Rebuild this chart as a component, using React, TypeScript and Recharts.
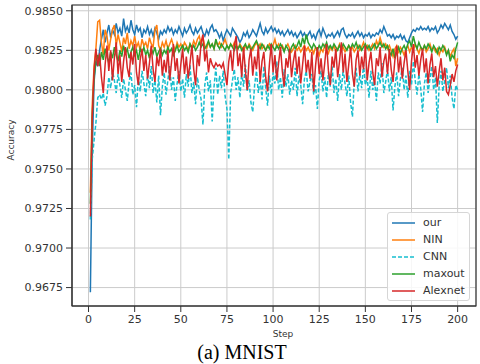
import {
  CartesianGrid,
  Line,
  LineChart,
  ReferenceArea,
  XAxis,
  YAxis,
} from "recharts";

// step index on the x axis
const steps = Array.from({ length: 200 }, (_, i) => i + 1);

const xTicks = [0, 25, 50, 75, 100, 125, 150, 175, 200];
const yTicks = [0.9675, 0.97, 0.9725, 0.975, 0.9775, 0.98, 0.9825, 0.985];

const our = [
  0.9672, 0.976, 0.9805, 0.9818, 0.9815, 0.9825, 0.9832, 0.9838, 0.983, 0.9836,
  0.9841, 0.9833, 0.9838, 0.9835, 0.9842, 0.9836, 0.9839, 0.9834, 0.9845, 0.9837,
  0.984, 0.9836, 0.9844, 0.9838, 0.9835, 0.9841, 0.9837, 0.9839, 0.9833, 0.9838,
  0.9836, 0.984, 0.9835, 0.9838, 0.9834, 0.9839, 0.9836, 0.9832, 0.9837, 0.9835,
  0.9838, 0.9836, 0.984, 0.9837, 0.9839, 0.9835, 0.9838, 0.9836, 0.984, 0.9837,
  0.9834, 0.9839, 0.9836, 0.9838, 0.9841, 0.9837, 0.9835, 0.9839, 0.9836, 0.9838,
  0.984, 0.9836, 0.9834, 0.9838, 0.9835, 0.9839, 0.9841, 0.9837, 0.9838, 0.9836,
  0.9833, 0.9836, 0.9831, 0.9835, 0.9838, 0.9836, 0.9834, 0.9839, 0.9837, 0.9835,
  0.9833, 0.983, 0.9832, 0.9836, 0.9834, 0.9837, 0.9833, 0.9835, 0.9838, 0.9836,
  0.9834, 0.9838, 0.9842, 0.9837, 0.9835, 0.9839, 0.9836, 0.9838, 0.984, 0.9837,
  0.9839, 0.9836, 0.9838, 0.9835, 0.9837, 0.9834, 0.9836, 0.9838, 0.9835, 0.9837,
  0.9834, 0.9836, 0.9833, 0.9835, 0.9837, 0.9834, 0.9836, 0.9833, 0.9835, 0.9837,
  0.9833, 0.9835, 0.9832, 0.9836, 0.9838, 0.9834, 0.9839, 0.9836, 0.9833, 0.9835,
  0.9834, 0.9836, 0.9833, 0.9835, 0.9837, 0.9834, 0.9838, 0.9839, 0.9835, 0.9833,
  0.9835, 0.9834, 0.9836, 0.9833, 0.9835, 0.9837, 0.9834, 0.9836, 0.9833, 0.9835,
  0.9834, 0.9836, 0.9833, 0.9835, 0.9834, 0.9836, 0.9835, 0.9838, 0.9836, 0.984,
  0.9837, 0.9834, 0.9835, 0.9833, 0.9835, 0.9832, 0.9834, 0.9833, 0.9835, 0.9832,
  0.9834, 0.9831, 0.983, 0.9833, 0.9836, 0.9838, 0.9837, 0.9839, 0.9838, 0.984,
  0.9838, 0.9839, 0.9838, 0.984, 0.9837, 0.9839, 0.9838, 0.984, 0.9836, 0.9838,
  0.9841, 0.9839, 0.9842, 0.984, 0.9838, 0.9841, 0.9837, 0.9835, 0.9832, 0.9834,
];

const nin = [
  0.9735, 0.979, 0.9815, 0.9826, 0.9843, 0.9844, 0.983, 0.9822, 0.9838, 0.9834,
  0.9825, 0.9832, 0.9838, 0.9841, 0.9828, 0.9835, 0.983, 0.9824, 0.9833, 0.9829,
  0.9836, 0.9826, 0.9831, 0.9828, 0.9834, 0.9827, 0.983, 0.9825, 0.9832, 0.9828,
  0.983, 0.9826, 0.9833, 0.9829, 0.9827, 0.9838, 0.9841, 0.9828, 0.9825, 0.983,
  0.9827, 0.9831, 0.9826, 0.9829, 0.9832, 0.9828, 0.9825, 0.983, 0.9827, 0.9829,
  0.9826, 0.983, 0.9828, 0.9825, 0.9829, 0.9827, 0.9831, 0.9828, 0.9832, 0.9834,
  0.9829, 0.9833, 0.9828, 0.9826, 0.983, 0.9827, 0.9829, 0.9826, 0.9831, 0.9828,
  0.983, 0.9827, 0.9829, 0.9832, 0.9828, 0.9826, 0.9829, 0.9827, 0.983, 0.9828,
  0.9826, 0.9829, 0.9827, 0.9824, 0.9828, 0.9826, 0.9829, 0.9827, 0.9825, 0.9828,
  0.983, 0.9827, 0.9829, 0.9826, 0.9828, 0.9825, 0.9827, 0.9829, 0.9826, 0.9828,
  0.9832, 0.9827, 0.9829, 0.9826, 0.9828, 0.9825, 0.9827, 0.9829, 0.9826, 0.9824,
  0.9826, 0.9828, 0.9825, 0.9827, 0.9824, 0.9826, 0.9828, 0.9825, 0.9827, 0.9824,
  0.9826, 0.9823, 0.9827, 0.9825, 0.9822, 0.9826, 0.9824, 0.9828, 0.9825, 0.9823,
  0.9827, 0.9825, 0.9828, 0.9824, 0.9826, 0.9829, 0.9825, 0.9827, 0.9824, 0.9826,
  0.9828, 0.9825, 0.9827, 0.9824, 0.9826, 0.9828, 0.9825, 0.9827, 0.983, 0.9826,
  0.9828, 0.9825, 0.9827, 0.9829, 0.9826, 0.9831, 0.9828, 0.9833, 0.9829, 0.9827,
  0.9829, 0.9826, 0.9828, 0.9825, 0.9821, 0.9826, 0.9828, 0.9824, 0.9827, 0.9825,
  0.9822, 0.9826, 0.9828, 0.9824, 0.9827, 0.9825, 0.9829, 0.9826, 0.9823, 0.9827,
  0.9825, 0.9828, 0.9824, 0.9826, 0.9829, 0.9825, 0.9827, 0.9824, 0.9826, 0.9822,
  0.9826, 0.9824, 0.9827, 0.9823, 0.9825, 0.9821, 0.9824, 0.9826, 0.9815, 0.982,
];

const cnn = [
  0.9718, 0.9756, 0.9768, 0.9779, 0.9795, 0.9797, 0.9794, 0.9798, 0.979, 0.9796,
  0.9808, 0.9801, 0.9812, 0.9806, 0.9798, 0.981, 0.9803, 0.9795, 0.9807, 0.98,
  0.9793, 0.9805, 0.9811, 0.9797, 0.9803, 0.9789, 0.9808, 0.9799, 0.9812, 0.9804,
  0.9796, 0.981, 0.9801, 0.9815, 0.9798, 0.9806, 0.9792, 0.9809, 0.9784, 0.9802,
  0.9811, 0.9797, 0.9806, 0.9815, 0.98, 0.9808, 0.9793, 0.9804, 0.9812, 0.9799,
  0.9807, 0.9795, 0.981, 0.9802, 0.9816, 0.9798, 0.9805, 0.9791, 0.9808, 0.98,
  0.9794, 0.9778, 0.9803, 0.9811, 0.9799, 0.9806, 0.978, 0.9802, 0.9814, 0.9797,
  0.9809, 0.9801, 0.9812, 0.9796, 0.9788, 0.9756, 0.9798, 0.9806, 0.9813, 0.98,
  0.9808, 0.9795, 0.9811, 0.9802, 0.9816, 0.9799, 0.9806, 0.9792, 0.9786, 0.9803,
  0.9812, 0.9798, 0.9807, 0.9794, 0.9815, 0.9801, 0.979, 0.9809, 0.9797, 0.9811,
  0.9804, 0.9818, 0.98, 0.9808, 0.9795, 0.9813, 0.9802, 0.981, 0.9797, 0.9806,
  0.98, 0.9814, 0.9796, 0.9809, 0.9803, 0.9791, 0.9807, 0.9812, 0.9799, 0.9805,
  0.981, 0.9797, 0.9803, 0.9788, 0.9806, 0.9812, 0.9799, 0.9808, 0.9795, 0.9811,
  0.9802, 0.9815, 0.9798, 0.9807, 0.9793, 0.981, 0.98, 0.9813, 0.9804, 0.9796,
  0.9809, 0.9792, 0.9783, 0.9806, 0.9814, 0.9799, 0.981, 0.9801, 0.9816, 0.9803,
  0.9808, 0.9795, 0.9812, 0.98, 0.9806, 0.9793, 0.9811, 0.9804, 0.9817, 0.9798,
  0.9805, 0.9813, 0.9799, 0.9808, 0.9787, 0.9802, 0.9811, 0.9796, 0.9807, 0.9814,
  0.98, 0.9809, 0.9795, 0.9812, 0.9803, 0.9818, 0.9806, 0.9797, 0.981, 0.9801,
  0.9786, 0.9804, 0.9811, 0.9798, 0.9807, 0.9815, 0.98, 0.9808, 0.9779, 0.9803,
  0.9812, 0.9799, 0.9806, 0.9814, 0.9801, 0.9809, 0.9795, 0.9788, 0.9803, 0.98,
];

const maxout = [
  0.9728, 0.9782, 0.9808, 0.9818, 0.9822, 0.9815, 0.9824, 0.9819, 0.9826, 0.9821,
  0.9817, 0.9824, 0.982, 0.9827, 0.9822, 0.9818, 0.9825, 0.9821, 0.9828, 0.9823,
  0.9826, 0.982, 0.9824, 0.9827, 0.9822, 0.9825, 0.9819, 0.9826, 0.9823, 0.9827,
  0.9822, 0.9825, 0.982, 0.9826, 0.9823, 0.9827, 0.9821, 0.9824, 0.9826, 0.9822,
  0.9825, 0.9823, 0.9827, 0.9824, 0.9826, 0.9822, 0.9825, 0.9828, 0.9824, 0.9826,
  0.9828, 0.9825, 0.9827, 0.9824, 0.9829, 0.9826, 0.9828, 0.9825, 0.9827, 0.983,
  0.9827, 0.9829, 0.9826, 0.9828, 0.9831, 0.9827, 0.9829, 0.9826, 0.9832, 0.9828,
  0.9826, 0.9829, 0.9827, 0.9825, 0.9828, 0.9826, 0.9829, 0.9827, 0.9825, 0.9828,
  0.9826, 0.9828, 0.9825, 0.9827, 0.9829, 0.9826, 0.9828, 0.9825, 0.9827, 0.9829,
  0.9831, 0.9828, 0.9826, 0.9829, 0.9827, 0.9825, 0.9828, 0.9826, 0.9829, 0.9827,
  0.9825, 0.9828, 0.9826, 0.9829, 0.9827, 0.9824, 0.9828, 0.9826, 0.9823, 0.9827,
  0.9829, 0.9826, 0.9828, 0.9831, 0.9827, 0.9833, 0.9829, 0.9835, 0.983, 0.9828,
  0.9826, 0.9829, 0.9827, 0.9825, 0.9828, 0.9826, 0.9829, 0.9827, 0.983, 0.9826,
  0.9828, 0.9826, 0.9829, 0.9827, 0.9825, 0.9828, 0.9826, 0.9829, 0.9827, 0.9825,
  0.9828, 0.9826, 0.9829, 0.9827, 0.983, 0.9826, 0.9828, 0.9825, 0.9827, 0.9829,
  0.9826, 0.9828, 0.9825, 0.9827, 0.9829, 0.9826, 0.9828, 0.983, 0.9827, 0.9829,
  0.9826, 0.9828, 0.9824, 0.9822, 0.9826, 0.982, 0.9824, 0.9827, 0.9823, 0.9826,
  0.9828, 0.9825, 0.9829, 0.9831, 0.9827, 0.9834, 0.9829, 0.9826, 0.983, 0.9827,
  0.9825, 0.9828, 0.9826, 0.9829, 0.9827, 0.9824, 0.9828, 0.9826, 0.9823, 0.9827,
  0.9825, 0.9828, 0.9826, 0.9822, 0.9825, 0.9818, 0.9822, 0.982, 0.9826, 0.983,
];

const alexnet = [
  0.972, 0.9782, 0.9812, 0.9826, 0.9815, 0.9823, 0.9808, 0.9798, 0.9816, 0.9828,
  0.9812, 0.9825, 0.9806, 0.982, 0.983, 0.981, 0.9822, 0.9805, 0.9818, 0.9827,
  0.9814, 0.9808, 0.9824, 0.9816, 0.9829, 0.9811, 0.9803, 0.9819, 0.9826, 0.9812,
  0.9822, 0.9807, 0.9817, 0.9828, 0.9813, 0.9805, 0.9821, 0.9815, 0.9826, 0.9809,
  0.9819, 0.9811, 0.9825, 0.9806, 0.9818, 0.9829, 0.9812, 0.982, 0.9804, 0.9816,
  0.9826, 0.981, 0.9821, 0.9807, 0.9817, 0.9828, 0.9813, 0.9803, 0.9822, 0.9815,
  0.983, 0.9835, 0.9818, 0.9825, 0.9811, 0.982, 0.9816, 0.9814, 0.9817, 0.9815,
  0.9816, 0.9814, 0.9817, 0.981, 0.9803, 0.9818, 0.9825, 0.9812, 0.9828, 0.9834,
  0.9815, 0.9823, 0.9808, 0.9827, 0.9812, 0.98, 0.9819, 0.9826, 0.9809, 0.9821,
  0.9813, 0.9828, 0.9805, 0.9818, 0.9824, 0.9808, 0.9799, 0.9816, 0.9829, 0.9811,
  0.9822, 0.9806, 0.9817, 0.9827, 0.9812, 0.9802, 0.982, 0.9814, 0.9826, 0.9808,
  0.9818, 0.9825, 0.981, 0.9821, 0.9804, 0.9816, 0.9828, 0.9811, 0.9819, 0.9807,
  0.9824, 0.9799, 0.9815, 0.9827, 0.981, 0.982, 0.9806, 0.9817, 0.9829, 0.9812,
  0.9803, 0.9821, 0.9814, 0.9826, 0.9808, 0.9818, 0.983, 0.9811, 0.9823, 0.9805,
  0.9816, 0.9827, 0.981, 0.9802, 0.9819, 0.9825, 0.9809, 0.9821, 0.9813, 0.9828,
  0.9806, 0.9817, 0.9824, 0.9811, 0.9803, 0.982, 0.9815, 0.9827, 0.9808, 0.9818,
  0.9823, 0.981, 0.9826, 0.9813, 0.9805, 0.9819, 0.9828, 0.9811, 0.9821, 0.9807,
  0.9817, 0.9825, 0.9812, 0.98, 0.9818, 0.9829, 0.9814, 0.9822, 0.9809, 0.9819,
  0.9826, 0.9811, 0.982, 0.9804, 0.9816, 0.9823, 0.9808, 0.9815, 0.9802, 0.9812,
  0.982, 0.9806, 0.9814, 0.9799, 0.9797, 0.9803, 0.981, 0.9805, 0.9812, 0.9816,
];

const series = [
  { key: "our", name: "our", color: "#1f77b4", dash: undefined },
  { key: "nin", name: "NIN", color: "#ff7f0e", dash: undefined },
  { key: "cnn", name: "CNN", color: "#17becf", dash: "4 2" },
  { key: "maxout", name: "maxout", color: "#2ca02c", dash: undefined },
  { key: "alexnet", name: "Alexnet", color: "#d62728", dash: undefined },
];

const chartData = steps.map((step, i) => ({
  step,
  our: our[i],
  nin: nin[i],
  cnn: cnn[i],
  maxout: maxout[i],
  alexnet: alexnet[i],
}));

// matplotlib style 5% margins around the data range
const xDomain = [-8.95, 209.95];
const yDomain = [0.966335, 0.985365];

const tickStyle = { fontFamily: "DejaVu Sans", fontSize: 11, fill: "#333" };

export default function App() {
  return (
    <div
      style={{
        position: "absolute",
        left: 0,
        top: 0,
        width: 480,
        height: 364,
        background: "#fff",
        overflow: "hidden",
      }}
    >
      <LineChart
        width={480}
        height={364}
        data={chartData}
        margin={{ top: 5, right: 4, bottom: 0, left: 0 }}
      >
        <CartesianGrid stroke="#cbcbcb" strokeWidth={1} />

        <XAxis
          dataKey="step"
          type="number"
          domain={xDomain}
          ticks={xTicks}
          allowDataOverflow
          height={58}
          tickSize={6}
          tickMargin={3}
          stroke="#333"
          tick={tickStyle}
        />

        <YAxis
          type="number"
          domain={yDomain}
          ticks={yTicks}
          allowDataOverflow
          width={72}
          tickSize={6}
          tickMargin={3}
          stroke="#333"
          tick={tickStyle}
          tickFormatter={(v: number) => v.toFixed(4)}
        />

        {series.map((s) => (
          <Line
            key={s.key}
            dataKey={s.key}
            name={s.name}
            type="linear"
            stroke={s.color}
            strokeWidth={1.5}
            strokeDasharray={s.dash}
            dot={false}
            isAnimationActive={false}
          />
        ))}

        <ReferenceArea
          x1={xDomain[0]}
          x2={xDomain[1]}
          y1={yDomain[0]}
          y2={yDomain[1]}
          fill="none"
          stroke="#333"
          strokeWidth={1.2}
        />
      </LineChart>

      <div
        style={{
          position: "absolute",
          left: 387,
          top: 212,
          width: 81,
          padding: "1px 0",
          background: "rgba(255,255,255,0.85)",
          border: "1px solid #d6d6d6",
          borderRadius: 3,
        }}
      >
        {series.map((s) => (
          <div
            key={s.key}
            style={{ display: "flex", alignItems: "center", height: 17 }}
          >
            <svg width={30} height={4} style={{ marginLeft: 4 }}>
              <line
                x1={0}
                y1={2}
                x2={23}
                y2={2}
                stroke={s.color}
                strokeWidth={1.5}
                strokeDasharray={s.dash}
              />
            </svg>
            <span
              style={{
                fontFamily: "DejaVu Sans",
                fontSize: 11,
                color: "#333",
                marginLeft: 1,
              }}
            >
              {s.name}
            </span>
          </div>
        ))}
      </div>

      <div
        style={{
          position: "absolute",
          left: 11,
          top: 140,
          transform: "translate(-50%, -50%) rotate(-90deg)",
          fontFamily: "DejaVu Sans",
          fontSize: 9,
          color: "#333",
          whiteSpace: "nowrap",
        }}
      >
        Accuracy
      </div>

      <div
        style={{
          position: "absolute",
          left: 283,
          top: 334,
          transform: "translate(-50%, -50%)",
          fontFamily: "DejaVu Sans",
          fontSize: 9,
          color: "#333",
        }}
      >
        Step
      </div>

      <div
        style={{
          position: "absolute",
          left: 242,
          top: 352,
          transform: "translate(-50%, -50%)",
          fontFamily: "Liberation Serif",
          fontSize: 20,
          color: "#000",
          whiteSpace: "nowrap",
        }}
      >
        (a) MNIST
      </div>
    </div>
  );
}
